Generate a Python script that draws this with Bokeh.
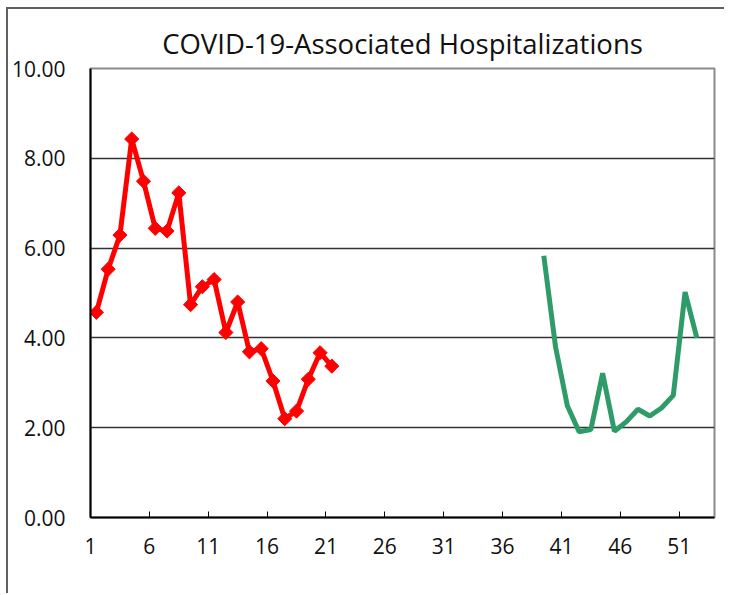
from bokeh.plotting import figure
from bokeh.models import FixedTicker, NumeralTickFormatter, Range1d
from bokeh.embed import file_html
from bokeh.resources import INLINE
import numpy as np

# Data (weekly values)
red_weeks = list(range(1, 22))
red_values = [4.57, 5.53, 6.29, 8.43, 7.49, 6.44, 6.38, 7.23, 4.74, 5.14, 5.30,
              4.12, 4.80, 3.69, 3.76, 3.04, 2.20, 2.37, 3.08, 3.67, 3.37]
green_weeks = list(range(39, 53))
green_values = [5.83, 3.80, 2.49, 1.91, 1.96, 3.21, 1.92, 2.13, 2.41, 2.26,
                2.44, 2.72, 5.02, 4.00]
x_tick_labels = [1, 6, 11, 16, 21, 26, 31, 36, 41, 46, 51]
y_ticks = [0, 2, 4, 6, 8, 10]

FONT = "Open Sans"

p = figure(frame_width=624, frame_height=449,
           min_border_left=82, min_border_right=10,
           min_border_top=59, min_border_bottom=76,
           x_range=Range1d(0.5, 53.5), y_range=Range1d(0, 10),
           output_backend="svg", toolbar_location=None,
           title="COVID-19-Associated Hospitalizations")

p.styles = {"border-left": "2px solid #606060", "border-top": "2px solid #606060",
            "margin-left": "6px", "margin-top": "7px"}

p.title.align = "center"
p.title.text_font = FONT
p.title.text_font_size = "27.5px"
p.title.text_font_style = "normal"
p.title.text_color = "#111111"
p.title.standoff = 14

p.outline_line_color = "#8a8a8a"
p.outline_line_width = 2

# x axis: category boundaries labelled with week numbers
ticks = [t - 0.5 for t in x_tick_labels]
p.xaxis.ticker = FixedTicker(ticks=ticks)
p.xaxis.major_label_overrides = {t: str(l) for t, l in zip(ticks, x_tick_labels)}
p.xaxis.major_tick_in = 6
p.xaxis.major_tick_out = 0
p.xaxis.minor_tick_line_color = None
p.xaxis.axis_line_color = "black"
p.xaxis.axis_line_width = 2
p.xaxis.major_tick_line_color = "black"
p.xaxis.major_label_text_font = FONT
p.xaxis.major_label_text_font_size = "21px"
p.xaxis.major_label_text_color = "#111111"
p.xaxis.major_label_standoff = 20

p.yaxis.ticker = FixedTicker(ticks=y_ticks)
p.yaxis.formatter = NumeralTickFormatter(format="0.00")
p.yaxis.major_tick_in = 0
p.yaxis.major_tick_out = 0
p.yaxis.minor_tick_line_color = None
p.yaxis.axis_line_color = "black"
p.yaxis.axis_line_width = 2
p.yaxis.major_label_text_font = FONT
p.yaxis.major_label_text_font_size = "21px"
p.yaxis.major_label_text_color = "#111111"
p.yaxis.major_label_standoff = 25

p.xgrid.grid_line_color = None
p.ygrid.grid_line_color = "#333333"
p.ygrid.grid_line_width = 1.5

p.line(red_weeks, red_values, line_color="#ff0000", line_width=5)
p.scatter(red_weeks, red_values, marker="square", size=10, angle=np.pi / 4,
          fill_color="#ff0000", line_color="#ff0000")
p.line(green_weeks, green_values, line_color="#2e9c69", line_width=5)

open("out.html", "w").write(file_html(p, INLINE))
